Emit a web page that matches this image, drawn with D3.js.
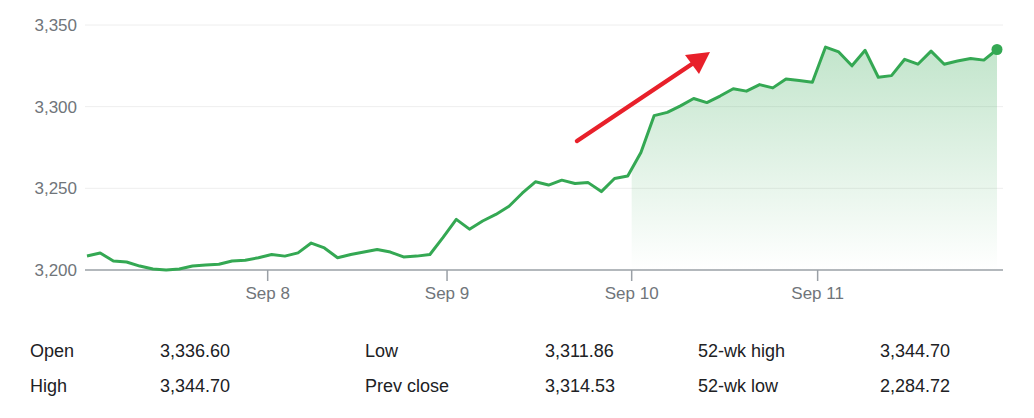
<!DOCTYPE html><html><head><meta charset="utf-8">
<script src="https://cdn.jsdelivr.net/npm/d3@7"></script>
<style>body{margin:0;background:#fff;font-family:Arial,"Liberation Sans",sans-serif}</style></head><body>
<svg id="c" width="1034" height="418"></svg>
<script>
const prices=[3208.6,3210.4,3205.5,3204.9,3202.4,3200.6,3200,3200.6,3202.5,3203,3203.5,3205.5,3206,3207.5,3209.5,3208.5,3210.5,3216.5,3213.5,3207.5,3209.5,3211,3212.5,3211,3208,3208.5,3209.5,3220,3231,3225,3230,3234,3239,3247,3254,3252,3255,3253,3253.5,3248,3256,3257.5,3272,3294.5,3296.5,3300.5,3305,3302.5,3306.5,3311,3309.5,3313.5,3311.5,3317,3316,3315,3336.5,3333.5,3325,3334.5,3318,3319,3329,3326,3334,3326,3328,3329.5,3328.5,3335];
const yTicks=[3200,3250,3300,3350];
const dayLabels=["Sep 8","Sep 9","Sep 10","Sep 11"];
const dayPos=[13.7,27.3,41.3,55.4];
const statsLabels=[["Open","High"],["Low","Prev close"],["52-wk high","52-wk low"]];
const statsValues=[["3,336.60","3,344.70"],["3,311.86","3,314.53"],["3,344.70","2,284.72"]];
const svg=d3.select("#c");
const x=d3.scaleLinear().domain([0,prices.length-1]).range([87,997]);
const y=d3.scaleLinear().domain([3200,3350]).range([270,25]);
const defs=svg.append("defs");
const g=defs.append("linearGradient").attr("id","gr").attr("x1",0).attr("x2",0).attr("y1",0).attr("y2",1);
g.append("stop").attr("offset","0").attr("stop-color","#34a853").attr("stop-opacity",0.3);
g.append("stop").attr("offset","1").attr("stop-color","#34a853").attr("stop-opacity",0);
defs.append("clipPath").attr("id","cp").append("rect").attr("x",x(dayPos[2])).attr("y",0).attr("width",1000).attr("height",270);
yTicks.forEach(t=>{
  if(t>3200) svg.append("line").attr("x1",85).attr("x2",1003).attr("y1",y(t)).attr("y2",y(t)).attr("stroke","#eeeeee");
  svg.append("text").attr("x",77).attr("y",y(t)+6).attr("text-anchor","end").attr("fill","#70757a").attr("font-size",17).text(d3.format(",")(t));
});
svg.append("path").datum(prices).attr("clip-path","url(#cp)").attr("fill","url(#gr)")
  .attr("d",d3.area().x((d,i)=>x(i)).y0(270).y1(d=>y(d)));
svg.append("line").attr("x1",85).attr("x2",1003).attr("y1",270).attr("y2",270).attr("stroke","#9aa0a6").attr("stroke-width",1.5);
dayPos.forEach((p,i)=>{
  svg.append("line").attr("x1",x(p)).attr("x2",x(p)).attr("y1",270).attr("y2",281).attr("stroke","#9aa0a6").attr("stroke-width",1.5);
  svg.append("text").attr("x",x(p)).attr("y",299).attr("text-anchor","middle").attr("fill","#70757a").attr("font-size",17).text(dayLabels[i]);
});
svg.append("path").datum(prices).attr("fill","none").attr("stroke","#34a853").attr("stroke-width",3).attr("stroke-linejoin","round")
  .attr("d",d3.line().x((d,i)=>x(i)).y(d=>y(d)));
svg.append("circle").attr("cx",x(prices.length-1)).attr("cy",y(prices[prices.length-1])).attr("r",5.5).attr("fill","#34a853");
// red arrow annotation
svg.append("line").attr("x1",577).attr("y1",141).attr("x2",695).attr("y2",62).attr("stroke","#e8202a").attr("stroke-width",4.5).attr("stroke-linecap","round");
svg.append("path").attr("d","M710,52 L685,55 L699,74 Z").attr("fill","#e8202a");
const colX=[[30,160],[365,545],[698,880]];
statsLabels.forEach((col,c)=>col.forEach((lab,r)=>{
  svg.append("text").attr("x",colX[c][0]).attr("y",357+r*35).attr("font-size",18).attr("fill","#202124").text(lab);
  svg.append("text").attr("x",colX[c][1]).attr("y",357+r*35).attr("font-size",18).attr("fill","#202124").text(statsValues[c][r]);
}));
</script></body></html>
